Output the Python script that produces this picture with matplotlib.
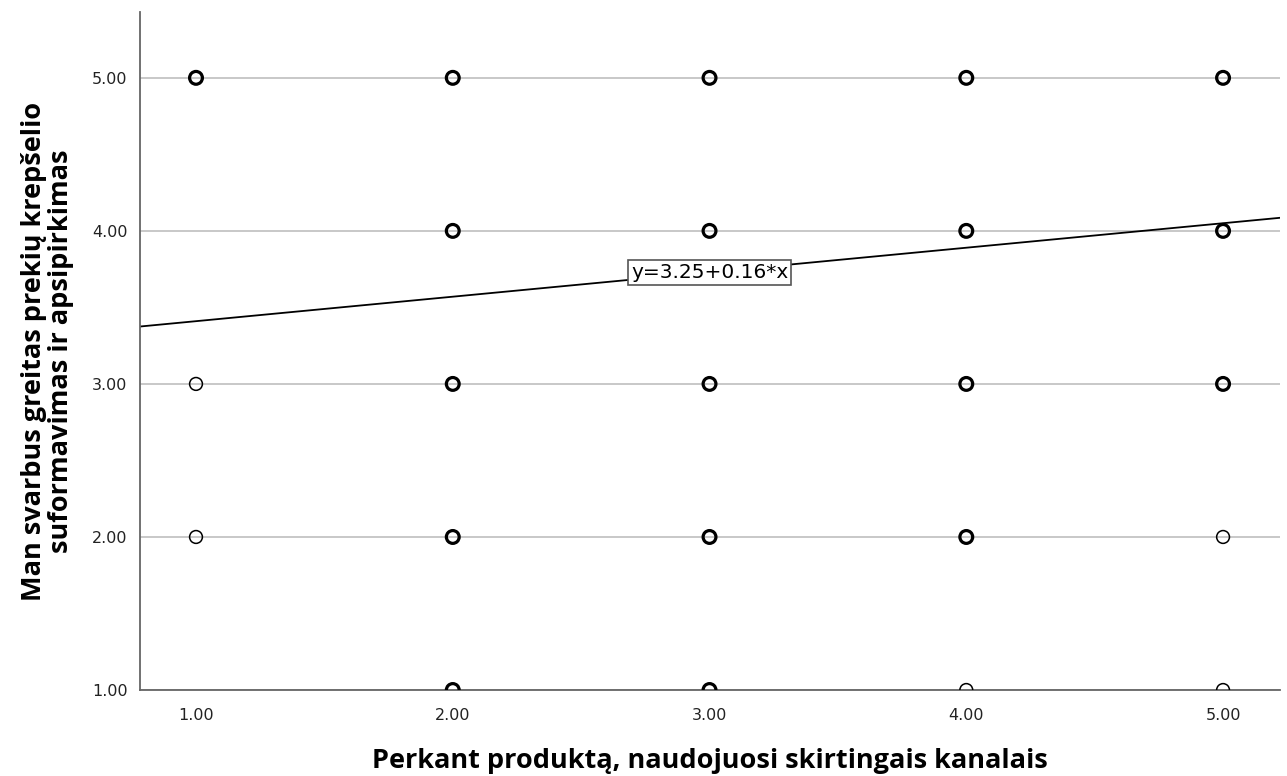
import numpy as np
import matplotlib
matplotlib.use("Agg")
import matplotlib.pyplot as plt

# observed answer pairs (x answer, y answer) and how many respondents sit on each
x_vals = [1, 1, 1,
          2, 2, 2, 2, 2,
          3, 3, 3, 3, 3,
          4, 4, 4, 4, 4,
          5, 5, 5, 5, 5]
y_vals = [5, 3, 2,
          5, 4, 3, 2, 1,
          5, 4, 3, 2, 1,
          5, 4, 3, 2, 1,
          5, 4, 3, 2, 1]
counts = [3, 1, 1,
          6, 6, 5, 4, 4,
          8, 7, 6, 5, 4,
          7, 7, 6, 4, 1,
          5, 4, 3, 1, 1]

intercept = 3.25
slope = 0.16
fit_label = "y=3.25+0.16*x"

y_ticks = [1, 2, 3, 4, 5]
x_ticks = [1, 2, 3, 4, 5]
x_title = "Perkant produktą, naudojuosi skirtingais kanalais"
y_title = "Man svarbus greitas prekių krepšelio\nsuformavimas ir apsipirkimas"

fig = plt.figure(figsize=(12.87, 7.76), dpi=100)
ax = fig.add_axes([0.1088, 0.1108, 0.8858, 0.8737])

xmin, xmax = 0.782, 5.222
ymin, ymax = 1.0, 5.43
ax.set_xlim(xmin, xmax)
ax.set_ylim(ymin, ymax)

for yt in y_ticks:
    ax.axhline(yt, color="#c8c8c8", lw=1.4, zorder=1)

lws = [1.1 if c == 1 else 2.3 for c in counts]
ax.scatter(x_vals, y_vals, s=85, facecolors="none", edgecolors="black",
           linewidths=lws, zorder=3)

xs = np.array([xmin, xmax])
ax.plot(xs, intercept + slope * xs, color="black", lw=1.3, zorder=2)
ax.text(3.0, 3.725, fit_label, ha="center", va="center", fontsize=14.5,
        family="DejaVu Sans", zorder=4,
        bbox=dict(boxstyle="square,pad=0.15", fc="white", ec="#555555", lw=1.2))

for side in ["top", "right"]:
    ax.spines[side].set_visible(False)
for side in ["left", "bottom"]:
    ax.spines[side].set_color("#666666")
    ax.spines[side].set_linewidth(1.3)

ax.set_xticks(x_ticks)
ax.set_yticks(y_ticks)
ax.set_xticklabels(["%.2f" % v for v in x_ticks], fontsize=11.5,
                   family="DejaVu Sans", color="#222222")
ax.set_yticklabels(["%.2f" % v for v in y_ticks], fontsize=11.5,
                   family="DejaVu Sans", color="#222222")
ax.tick_params(axis="y", length=0, pad=9)
ax.tick_params(axis="x", length=0, pad=13)

ax.set_xlabel(x_title, fontsize=19.5, fontweight="bold", family="Open Sans", labelpad=18)
ax.set_ylabel(y_title, fontsize=19.5, fontweight="bold", family="Open Sans",
              labelpad=13, linespacing=1.05)

fig.savefig("out.png", dpi=100)
